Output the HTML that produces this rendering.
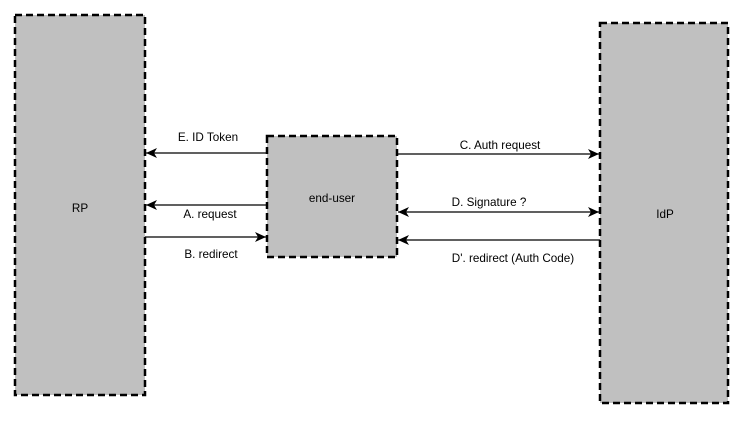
<!DOCTYPE html>
<html><head><meta charset="utf-8"><style>html,body{margin:0;padding:0;background:#fff}</style></head>
<body>
<svg width="744" height="418" xmlns="http://www.w3.org/2000/svg" font-family="Liberation Sans, Arial, sans-serif" font-size="11.7" fill="#000">
<defs>
<marker id="a" markerWidth="12" markerHeight="10" refX="11" refY="5" orient="auto" markerUnits="userSpaceOnUse">
<path d="M0,0 L11,5 L0,10 L3,5 Z" fill="#000"/></marker>
<marker id="s" markerWidth="12" markerHeight="10" refX="1" refY="5" orient="auto" markerUnits="userSpaceOnUse">
<path d="M12,0 L1,5 L12,10 L9,5 Z" fill="#000"/></marker>
</defs>
<g fill="#c0c0c0" stroke="#000" stroke-width="2.5" stroke-dasharray="7,4">
<rect x="15" y="15" width="130" height="380"/>
<rect x="600" y="23" width="128" height="380"/>
<rect x="267" y="136" width="130" height="121"/>
</g>
<g stroke="#000" stroke-width="1.2" fill="none">
<line x1="267" y1="153" x2="146" y2="153" marker-end="url(#a)"/>
<line x1="267" y1="205" x2="146" y2="205" marker-end="url(#a)"/>
<line x1="145" y1="237" x2="266" y2="237" marker-end="url(#a)"/>
<line x1="397" y1="154" x2="599" y2="154" marker-end="url(#a)"/>
<line x1="398" y1="212" x2="599" y2="212" marker-start="url(#s)" marker-end="url(#a)"/>
<line x1="600" y1="240" x2="398" y2="240" marker-end="url(#a)"/>
</g>
<g text-anchor="middle">
<text x="208" y="141">E. ID Token</text>
<text x="210" y="218">A. request</text>
<text x="211" y="258">B. redirect</text>
<text x="500" y="149">C. Auth request</text>
<text x="489" y="206">D. Signature ?</text>
<text x="513" y="262">D'. redirect (Auth Code)</text>
<text x="332" y="202">end-user</text>
<text x="80" y="212">RP</text>
<text x="665" y="218">IdP</text>
</g>
</svg>
</body></html>
